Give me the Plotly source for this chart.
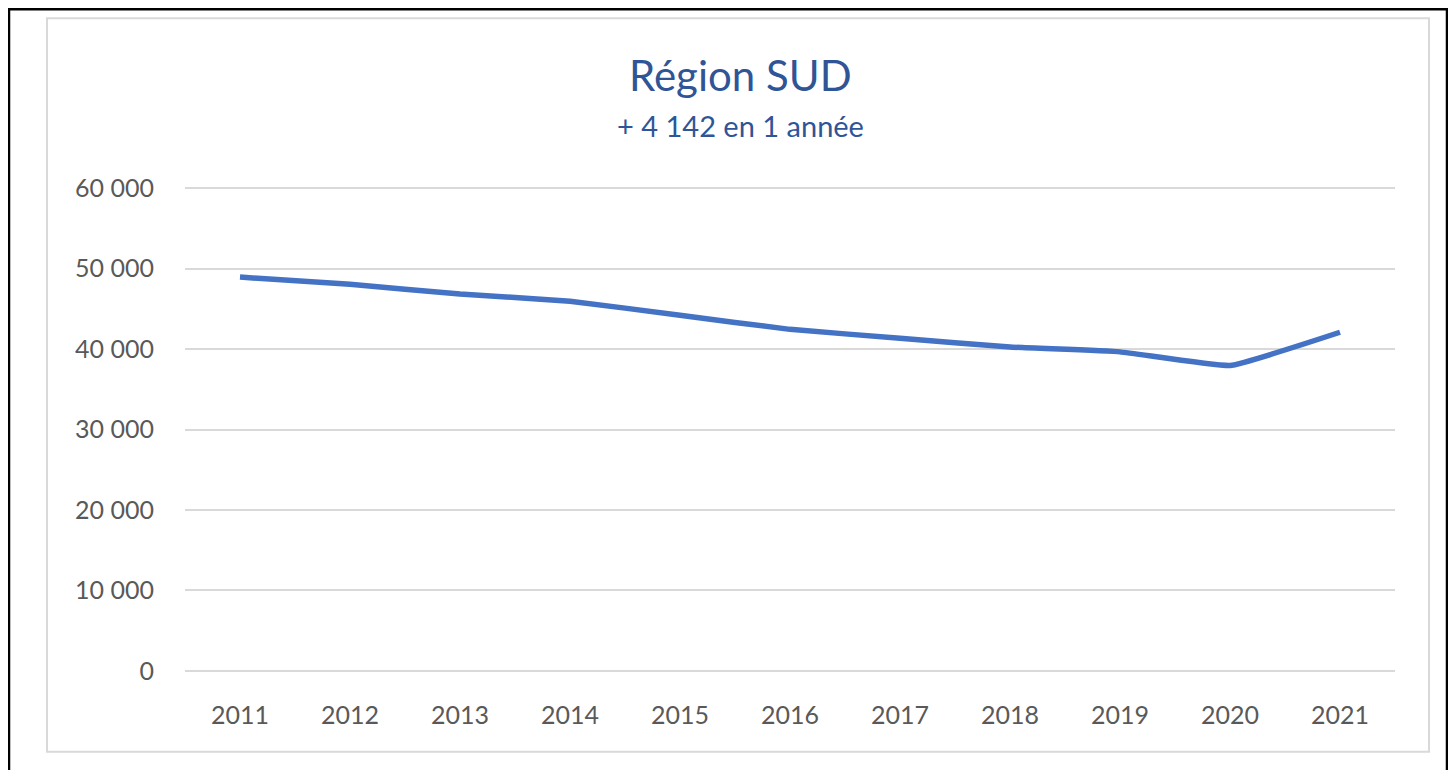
import plotly.graph_objects as go

years = ["2011", "2012", "2013", "2014", "2015", "2016", "2017", "2018", "2019", "2020", "2021"]
values = [48950, 48050, 46850, 45950, 44200, 42450, 41350, 40250, 39650, 37950, 42092]
ytick_vals = [0, 10000, 20000, 30000, 40000, 50000, 60000]
ytick_text = ["0", "10 000", "20 000", "30 000", "40 000", "50 000", "60 000"]
title_text = "Région SUD"
subtitle_text = "+ 4 142 en 1 année"

# the page body adds an 8px offset; work in page pixels and convert
OFF = 8
W, H = 1440, 762
L, R, T, B = 185 - OFF, 1395 - OFF, 188 - OFF, 671 - OFF
PAD = 150  # small range padding so edge gridlines are drawn
ppu = (B - T) / 60000.0
T2 = T - PAD * ppu
B2 = B + PAD * ppu


def px(xpage):
    return (xpage - OFF - L) / (R - L)


def py(ypage):
    return (B2 - (ypage - OFF)) / (B2 - T2)


fig = go.Figure()
fig.add_trace(go.Scatter(
    x=years, y=values, mode="lines",
    line=dict(color="#4472C4", width=5.5, shape="spline", smoothing=0.3),
    hoverinfo="x+y", showlegend=False,
))

font_family = "Lato, 'Noto Sans', sans-serif"

fig.update_layout(
    width=W, height=H,
    margin=dict(l=L, r=W - R, t=round(T2), b=round(H - B2), pad=0),
    paper_bgcolor="white", plot_bgcolor="white",
    xaxis=dict(
        type="category", range=[-0.5, 10.5],
        showgrid=False, showline=False, zeroline=False,
        ticks="outside", ticklen=21, tickcolor="rgba(0,0,0,0)",
        tickfont=dict(family=font_family, size=25, color="#595959"),
    ),
    yaxis=dict(
        range=[-PAD, 60000 + PAD], tickvals=ytick_vals, ticktext=ytick_text,
        showgrid=True, gridcolor="#D9D9D9", gridwidth=1.5,
        zeroline=False, showline=False,
        ticks="outside", ticklen=25, tickcolor="rgba(0,0,0,0)",
        tickfont=dict(family=font_family, size=25, color="#595959"),
    ),
    font=dict(family=font_family),
)

# outer black frame and inner chart-area border
fig.add_shape(type="rect", xref="paper", yref="paper",
              x0=px(9), x1=px(1447), y0=py(800), y1=py(9),
              line=dict(color="black", width=2.5), layer="below")
fig.add_shape(type="rect", xref="paper", yref="paper",
              x0=px(47), x1=px(1429), y0=py(752), y1=py(18),
              line=dict(color="#D9D9D9", width=2), layer="below")

fig.add_annotation(text=title_text, xref="paper", yref="paper",
                   x=px(740), y=py(75), showarrow=False,
                   xanchor="center", yanchor="middle",
                   font=dict(family=font_family, size=42, color="#2F5597"))
fig.add_annotation(text=subtitle_text, xref="paper", yref="paper",
                   x=px(740), y=py(125), showarrow=False,
                   xanchor="center", yanchor="middle",
                   font=dict(family=font_family, size=29, color="#2F5597"))

fig.write_html("out.html")
